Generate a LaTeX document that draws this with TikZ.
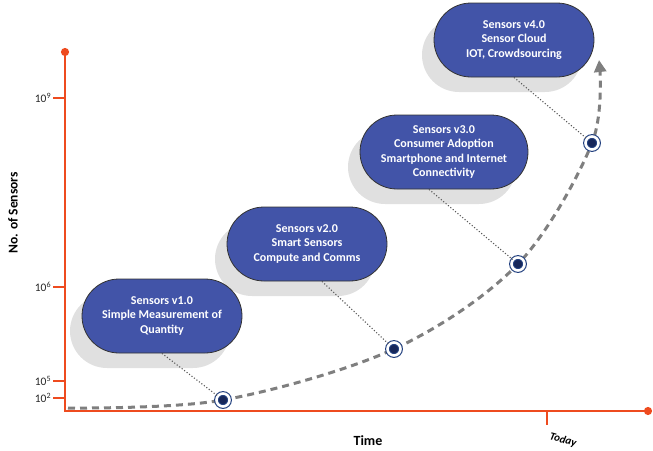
\documentclass[tikz,border=0pt]{standalone}
\usepackage{fontspec}
\setmainfont{Carlito}
\usepackage{xcolor}
\usetikzlibrary{arrows.meta, shadows, positioning}
\definecolor{axisred}{HTML}{EE4B1F}
\definecolor{boxblue}{HTML}{4254A8}
\definecolor{ringblue}{HTML}{22407F}
\definecolor{dotblue}{HTML}{17275A}
\definecolor{curvegray}{HTML}{7F7F7F}

\begin{document}
\begin{tikzpicture}[x=1pt, y=-1pt,
  axis/.style={axisred, line width=2.2pt},
  sensorbox/.style={draw=black!80, line width=0.8pt, fill=boxblue, text=white,
    font=\bfseries\fontsize{12}{14.5}\selectfont, align=center,
    minimum width=160pt, minimum height=74pt, rounded corners=37pt, inner sep=2pt,
    drop shadow={shadow xshift=-12pt, shadow yshift=-15pt, fill=black!12, opacity=1}},
  marker/.style={circle, inner sep=0pt, minimum size=13pt, fill=dotblue, draw=ringblue,
    line width=1.1pt, double=white, double distance=2.6pt},
  link/.style={dotted, line width=1.1pt, black!65},
  growth/.style={curvegray, line width=3pt, dash pattern=on 7pt off 5pt}]
\useasboundingbox (0,0) rectangle (653,450);

% axes
\coordinate (ytop) at (65,48);
\coordinate (xend) at (652,411);
\draw[axis, {Circle[length=8pt]}-{Circle[length=8pt]}] (ytop) |- (xend);
\foreach \y/\e in {98/9, 287/6, 381/5, 398/2}
  \draw[axis, line width=1.8pt] (65,\y) -- ++(-12,0)
    node[left, black!85, inner sep=1pt, font=\fontsize{11.5}{12}\selectfont] (t\e) {10\textsuperscript{\e}};
\draw[axis, line width=1.8pt] (547,411) -- (547,425) coordinate (today);
\node[rotate=-15, font=\bfseries\itshape\fontsize{11}{12}\selectfont] (todaylabel) at (563,440) {Today};
\node[font=\bfseries\fontsize{14}{16}\selectfont] (xlabel) at (368,441) {Time};
\node[rotate=90, font=\bfseries\fontsize{13.5}{15}\selectfont] (ylabel) at (13,213) {No. of Sensors};

% stages
\node[sensorbox] (v4) at (514,40) {Sensors v4.0\\Sensor Cloud\\IOT, Crowdsourcing};
\node[sensorbox, minimum width=168pt] (v3) at (444,152) {Sensors v3.0\\Consumer Adoption\\Smartphone and Internet\\Connectivity};
\node[sensorbox] (v2) at (307,244) {Sensors v2.0\\Smart Sensors\\Compute and Comms};
\node[sensorbox] (v1) at (162,316) {Sensors v1.0\\Simple Measurement of\\Quantity};

% growth curve
\coordinate (start) at (68,408);
\coordinate (p1) at (223,400);
\coordinate (p2) at (394,349);
\coordinate (p3) at (518,264);
\coordinate (p4) at (592,143);
\coordinate (tip) at (599,60);
\draw[growth, -{Triangle[length=12pt, width=12pt]}]
  plot[smooth, tension=0.55] coordinates {(start) (p1) (p2) (p3) (p4) (tip)};
\foreach \i in {1,...,4}
  \node[marker] (m\i) at (p\i) {};

\draw[link] (v1.south) -- (m1);
\draw[link] ([xshift=15pt]v2.south) -- (m2);
\draw[link] ([xshift=-15pt]v3.south) -- (m3);
\draw[link] (v4.south) -- (m4);
\end{tikzpicture}
\end{document}
